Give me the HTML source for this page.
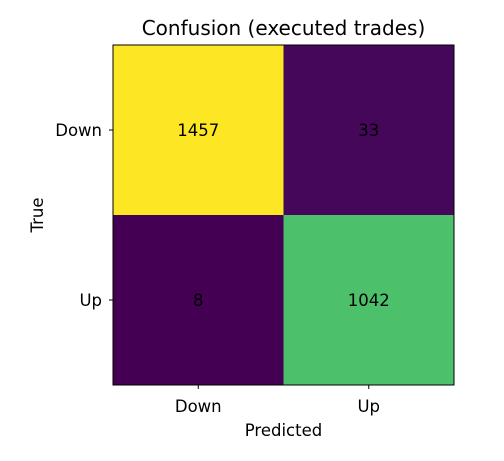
<!DOCTYPE html>
<html><head><meta charset="utf-8"><style>
body{margin:0;background:#fff;}
svg text{font-family:"DejaVu Sans","Liberation Sans",sans-serif;}
</style></head><body>
<svg id="chart" width="504" height="456" xmlns="http://www.w3.org/2000/svg">
<rect width="504" height="456" fill="#fff"/>
<text x="283.5" y="35" text-anchor="middle" font-size="20" fill="#000">Confusion (executed trades)</text>
<g id="cells"></g>
<rect x="113" y="45" width="341" height="340" fill="none" stroke="#000" stroke-width="1"/>
<g id="ticks"></g>
<text x="283.5" y="436" text-anchor="middle" font-size="16.5" fill="#000">Predicted</text>
<text x="43" y="215" text-anchor="middle" font-size="16.5" fill="#000" transform="rotate(-90 43 215)">True</text>
</svg>
<script>
const predictedLabels = ["Down", "Up"];
const trueLabels = ["Down", "Up"];
const rowDown = [1457, 33];
const rowUp = [8, 1042];
const matrix = [rowDown, rowUp];

const NS = "http://www.w3.org/2000/svg";
const x0 = 113, y0 = 45, W = 341, H = 340;
const cw = W / predictedLabels.length, ch = H / trueLabels.length;
const xScale = i => x0 + i * cw;
const yScale = j => y0 + j * ch;
const vir = [[68,1,84],[72,40,120],[62,74,137],[49,104,142],[38,130,142],[31,158,137],[53,183,121],[109,205,89],[180,222,44],[253,231,37]];
function viridis(t){t=Math.max(0,Math.min(1,t));const p=t*(vir.length-1);const i=Math.min(Math.floor(p),vir.length-2);const f=p-i;
const c=vir[i].map((v,k)=>Math.round(v+(vir[i+1][k]-v)*f));return `rgb(${c[0]},${c[1]},${c[2]})`;}
const all = matrix.flat();
const vmin = Math.min(...all), vmax = Math.max(...all);
const cells = document.getElementById('cells');
const ticks = document.getElementById('ticks');
matrix.forEach((row, j) => row.forEach((v, i) => {
  const t = (v - vmin) / (vmax - vmin);
  const r = document.createElementNS(NS, 'rect');
  r.setAttribute('x', xScale(i)); r.setAttribute('y', yScale(j));
  r.setAttribute('width', cw); r.setAttribute('height', ch);
  r.setAttribute('fill', viridis(t));
  
  
  cells.appendChild(r);
  const tx = document.createElementNS(NS, 'text');
  tx.setAttribute('x', xScale(i) + cw / 2); tx.setAttribute('y', yScale(j) + ch / 2 + 6);
  tx.setAttribute('text-anchor', 'middle'); tx.setAttribute('font-size', '16.5');
  tx.setAttribute('fill', '#000');
  tx.textContent = v;
  
  
  cells.appendChild(tx);
}));
predictedLabels.forEach((l, i) => {
  const cx = xScale(i) + cw / 2;
  const ln = document.createElementNS(NS, 'line');
  ln.setAttribute('x1', cx); ln.setAttribute('x2', cx); ln.setAttribute('y1', y0 + H); ln.setAttribute('y2', y0 + H + 4);
  ln.setAttribute('stroke', '#000');
  
  
  ticks.appendChild(ln);
  const t = document.createElementNS(NS, 'text');
  t.setAttribute('x', cx); t.setAttribute('y', y0 + H + 27);
  t.setAttribute('text-anchor', 'middle'); t.setAttribute('font-size', '16.5');
  t.textContent = l;
  
  
  ticks.appendChild(t);
});
trueLabels.forEach((l, j) => {
  const cy = yScale(j) + ch / 2;
  const ln = document.createElementNS(NS, 'line');
  ln.setAttribute('x1', x0 - 4); ln.setAttribute('x2', x0); ln.setAttribute('y1', cy); ln.setAttribute('y2', cy);
  ln.setAttribute('stroke', '#000');
  
  
  ticks.appendChild(ln);
  const t = document.createElementNS(NS, 'text');
  t.setAttribute('x', x0 - 11); t.setAttribute('y', cy + 6);
  t.setAttribute('text-anchor', 'end'); t.setAttribute('font-size', '16.5');
  t.textContent = l;
  
  
  ticks.appendChild(t);
});
</script>
</body></html>
